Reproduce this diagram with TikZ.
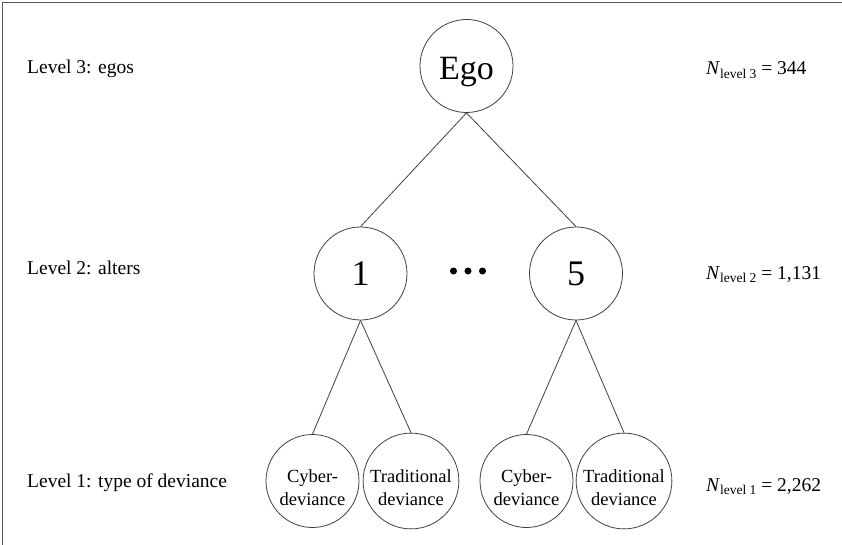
\documentclass[tikz,border=0pt]{standalone}
\usepackage{fontspec}
\setmainfont{Liberation Serif}
\newcommand{\lvl}[1]{\raisebox{-3.5pt}{\fontsize{13.5}{13.5}\selectfont level #1}}
\begin{document}
\begin{tikzpicture}[x=1pt,y=-1pt,
  frame/.style={draw=black!65, line width=1.4pt},
  ring/.style={circle, draw=black!75, line width=0.8pt, inner sep=0pt, align=center, minimum size=93pt},
  link/.style={draw=black!75, line width=0.8pt},
  lbl/.style={anchor=base west, inner sep=0pt, font=\fontsize{19.5}{23}\selectfont},
  leaf/.style={ring, font=\fontsize{18.5}{23}\selectfont},
  dotmark/.style={circle, fill=black, inner sep=0pt, minimum size=7pt}]
\useasboundingbox (0,0) rectangle (842,545);
\draw[frame] (2.5,545) -- (2.5,2.3) -- (842,2.3);
% level labels
\node[lbl] (l3) at (27,74) {Level 3: egos};
\node[lbl] (l2) at (27,274) {Level 2: alters};
\node[lbl] (l1) at (27,487) {Level 1: type of deviance};
% counts
\node[lbl] (n3) at (706,75) {\textit{N}\lvl{3} = 344};
\node[lbl] (n2) at (706,279) {\textit{N}\lvl{2} = 1,131};
\node[lbl] (n1) at (706,491) {\textit{N}\lvl{1} = 2,262};
% tree
\node[ring, font=\fontsize{34}{34}\selectfont] (ego) at (466.5,66) {\rule{0pt}{35pt}Ego};
\node[ring, font=\fontsize{36}{36}\selectfont] (a1) at (360.5,273.5) {1};
\node[ring, font=\fontsize{36}{36}\selectfont] (a5) at (576,273.5) {5};
\node[dotmark] (d1) at (453.5,271) {};
\node[dotmark] (d2) at (468,271) {};
\node[dotmark] (d3) at (482.5,271) {};
\node[leaf] (c1) at (312.5,481) {\rule{0pt}{27pt}Cyber-\\deviance};
\node[leaf] (c2) at (411,481) {\rule{0pt}{27pt}Traditional\\deviance};
\node[leaf] (c3) at (526.5,481) {\rule{0pt}{27pt}Cyber-\\deviance};
\node[leaf] (c4) at (624,481) {\rule{0pt}{27pt}Traditional\\deviance};
\draw[link] (ego.south) -- (a1.north);
\draw[link] (ego.south) -- (a5.north);
\draw[link] (a1.south) -- (c1.north);
\draw[link] (a1.south) -- (c2.north);
\draw[link] (a5.south) -- (c3.north);
\draw[link] (a5.south) -- (c4.north);
\end{tikzpicture}
\end{document}
